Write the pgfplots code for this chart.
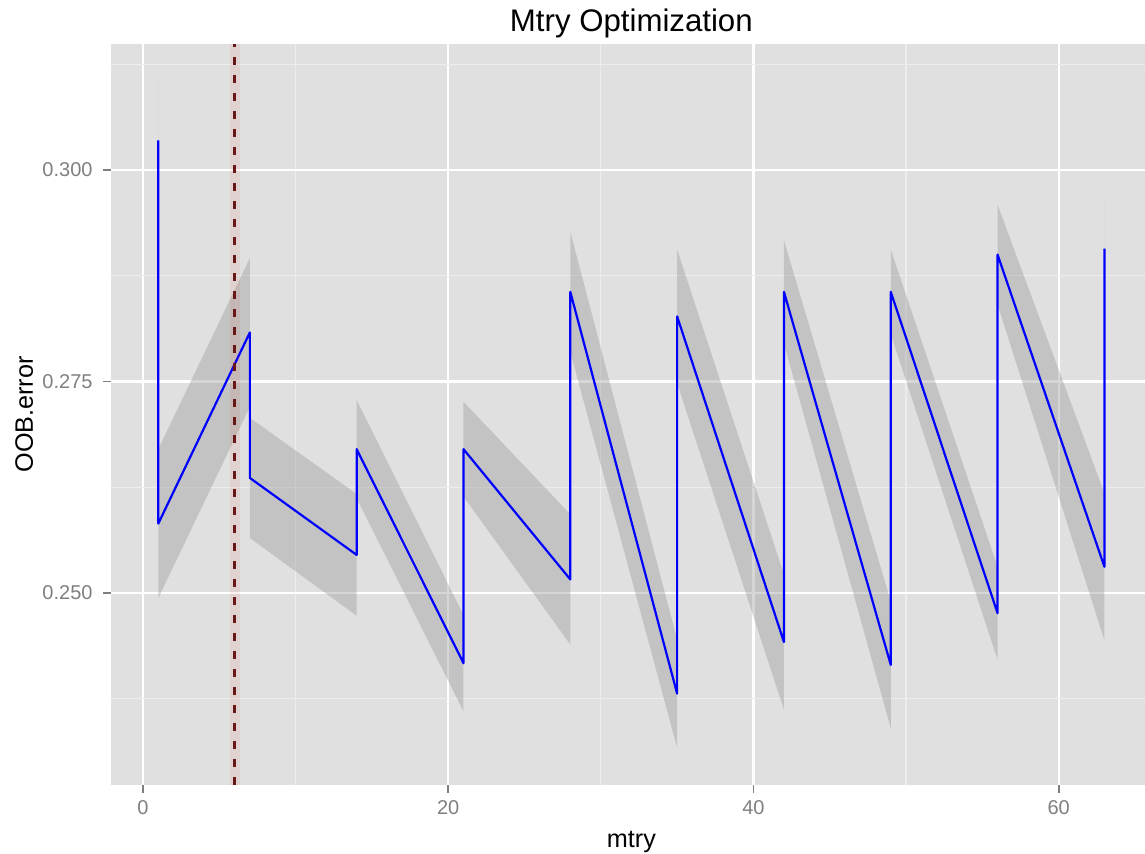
\documentclass[border=0pt]{standalone}
\usepackage{pgfplots}
\pgfplotsset{compat=1.18}
\usepackage{pgfplotstable}
\usepgfplotslibrary{fillbetween}
\usepackage{fontspec}
\setmainfont{Liberation Sans}

\definecolor{panelbg}{RGB}{224,224,224}
\definecolor{minorgrid}{RGB}{237,237,237}
\definecolor{ticklab}{RGB}{127,127,127}
\definecolor{ribbon}{RGB}{153,153,153}
\definecolor{vline}{RGB}{105,22,22}

% OOB error per mtry (two runs at each value), with the band limits lo/hi
\pgfplotstableread{
x   y      lo     hi
1   0.3035 0.2960 0.3110
1   0.2582 0.2494 0.2670
7   0.2808 0.2720 0.2896
7   0.2636 0.2565 0.2707
14  0.2545 0.2473 0.2617
14  0.2670 0.2612 0.2728
21  0.2417 0.2360 0.2474
21  0.2670 0.2614 0.2726
28  0.2516 0.2439 0.2593
28  0.2856 0.2785 0.2927
35  0.2381 0.2317 0.2445
35  0.2827 0.2748 0.2906
42  0.2442 0.2362 0.2522
42  0.2856 0.2795 0.2917
49  0.2415 0.2340 0.2490
49  0.2856 0.2806 0.2906
56  0.2476 0.2421 0.2531
56  0.2900 0.2841 0.2959
63  0.2531 0.2444 0.2618
63  0.2907 0.2847 0.2967
}\oobdata

\begin{document}
\begin{tikzpicture}
\begin{axis}[
  at={(55.5pt,34.5pt)}, anchor=south west,
  scale only axis, width=520.35pt, height=370.5pt,
  xmin=-2.1, xmax=66.1, ymin=0.2273, ymax=0.3149,
  axis background/.style={fill=panelbg},
  axis line style={draw=none},
  xtick={0,20,40,60}, xticklabels={0,20,40,60},
  ytick={0.25,0.275,0.3}, yticklabels={0.250,0.275,0.300},
  minor xtick={10,30,50}, minor ytick={0.2375,0.2625,0.2875,0.3125},
  grid=both,
  major grid style={white, line width=1.1pt},
  minor grid style={minorgrid, line width=0.55pt},
  tick align=outside, tick pos=left,
  major tick length=4pt, minor tick length=0pt,
  every tick/.style={ticklab, line width=0.9pt},
  ticklabel style={font=\fontsize{10}{12}\selectfont, text=ticklab},
  xticklabel style={anchor=base, yshift=-11pt},
  yticklabel style={anchor=east, xshift=-1.7pt},
  xlabel={mtry}, ylabel={OOB.error},
  label style={font=\fontsize{12.6}{15}\selectfont},
  xlabel style={at={(axis description cs:0.5,-0.0837)}, anchor=base},
  ylabel style={at={(axis description cs:-0.075,0.5)}, anchor=base},
  title={Mtry Optimization},
  title style={font=\fontsize{15.6}{18}\selectfont, at={(axis description cs:0.5,1.0)}, anchor=base},
]
  \addplot[draw=none, name path=hi, forget plot] table[x=x, y=hi] {\oobdata};
  \addplot[draw=none, name path=lo, forget plot] table[x=x, y=lo] {\oobdata};
  \addplot[fill=ribbon, fill opacity=0.4, draw=none] fill between[of=hi and lo];
  \addplot[blue, line width=1.1pt, line join=round] table[x=x, y=y] {\oobdata};
  % reference mtry: a soft red glow under the dashed rule
  \addplot[red, opacity=0.06, line width=5pt] coordinates {(6,0.2273) (6,0.3149)};
  \addplot[vline, line width=1.3pt, dash pattern=on 4pt off 5pt] coordinates {(6,0.2273) (6,0.3149)};
\end{axis}
\pgfresetboundingbox
\path[use as bounding box] (0,0) rectangle (572.5pt,427pt);
\end{tikzpicture}
\end{document}
